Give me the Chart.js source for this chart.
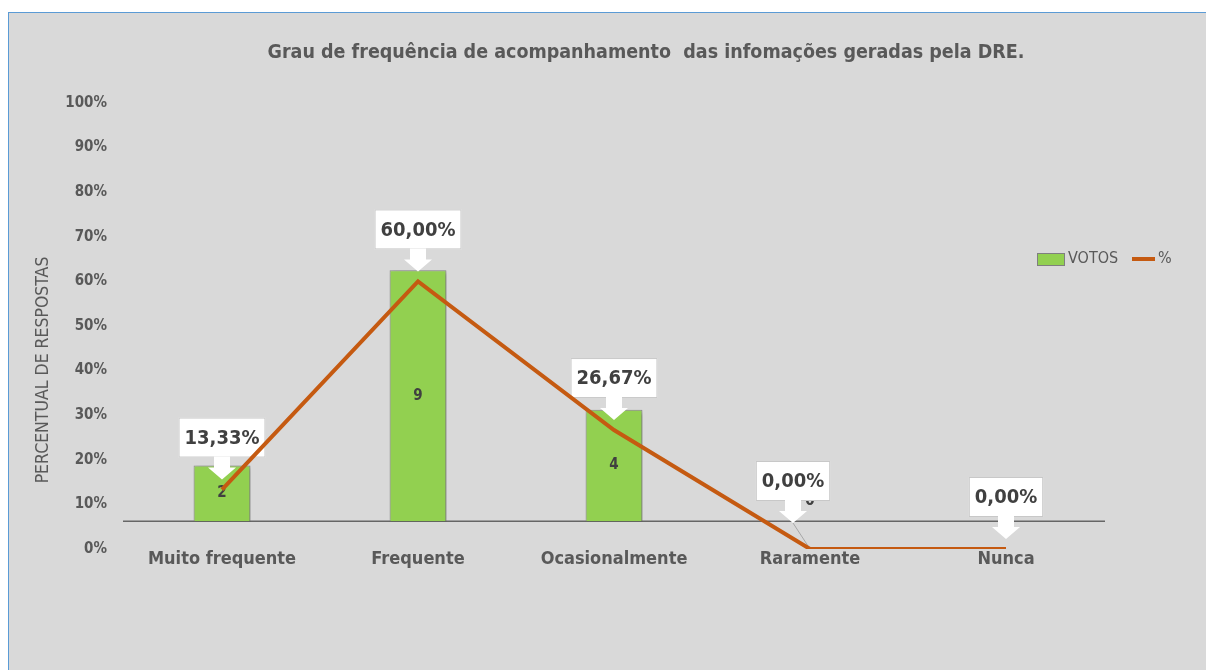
<!DOCTYPE html>
<html>
<head>
<meta charset="utf-8">
<script src="https://cdn.jsdelivr.net/npm/chart.js@4"></script>
<style>
  html, body { margin: 0; padding: 0; background: #fff; }
  #frame {
    position: absolute; left: 8px; top: 12px; width: 1210px; height: 670px;
    background: #d9d9d9; border: 1px solid #5b9bd5; box-sizing: border-box;
  }
  #wrap { position: absolute; left: 0; top: 0; width: 1206px; height: 670px; }
</style>
</head>
<body>
<div id="frame"></div>
<div id="wrap"><canvas id="chart" width="1206" height="670"></canvas></div>
<script>
// data
const categories = ["Muito frequente", "Frequente", "Ocasionalmente", "Raramente", "Nunca"];
const votos = [2, 9, 4, 0, 0];
const percent = [13.33, 60.0, 26.67, 0, 0];
const yTicks = [0, 10, 20, 30, 40, 50, 60, 70, 80, 90, 100];

const TITLE = "Grau de frequência de acompanhamento  das infomações geradas pela DRE.";
const Y_TITLE = "PERCENTUAL DE RESPOSTAS";
const FONT = "'Liberation Sans Narrow', 'DejaVu Sans Condensed', 'Liberation Sans', sans-serif";
const TEXT = "#595959";
const GREEN = "#92d050";
const ORANGE = "#c55a11";

// label that was dragged away in the original (dx, dy)
const calloutNudge = [[0, 0], [0, 0], [0, 0], [-17, -16], [0, 0]];

const fmtPct = v => v.toFixed(2).replace(".", ",") + "%";

// 🎨 extra drawing: title, axis title, legend, base line, labels, callouts
const decor = {
    id: "decor",
    beforeDatasetsDraw(chart) {
        const c = chart.ctx, a = chart.chartArea;
        const y0 = chart.scales.yVotos.getPixelForValue(0);
        c.save();
        c.strokeStyle = "#666";
        c.lineWidth = 1.5;
        c.beginPath();
        c.moveTo(a.left - 1, y0);
        c.lineTo(a.right + 1, y0);
        c.stroke();
        c.restore();
    },
    beforeDatasetDraw(chart, args) {
        if (args.index === 0) {
            const c = chart.ctx;
            c.save();
            c.shadowColor = "rgba(0,0,0,0.35)";
            c.shadowBlur = 4;
            c.shadowOffsetX = 2;
            c.shadowOffsetY = 2;
        }
    },
    afterDatasetDraw(chart, args) {
        if (args.index !== 0) return;
        const c = chart.ctx;
        c.restore();

        // bar value labels
        const bars = chart.getDatasetMeta(0).data;
        c.save();
        c.fillStyle = "#404040";
        c.font = "bold 15px " + FONT;
        c.textAlign = "center";
        c.textBaseline = "middle";
        bars.forEach((b, i) => {
            const v = votos[i];
            const y = v === 0 ? b.base - 20 : (b.y + b.base) / 2;
            c.fillText(String(v), b.x, y);
        });
        c.restore();

        // callouts for the % line
        const pts = chart.getDatasetMeta(1).data;
        c.save();
        c.font = "bold 20px " + FONT;
        pts.forEach((p, i) => {
            const [dx, dy] = calloutNudge[i];
            const tipX = p.x + dx, tipY = p.y - 10 + dy;
            const txt = fmtPct(percent[i]);
            const w = c.measureText(txt).width + 12, h = 40;
            const boxB = tipY - 22, boxT = boxB - h, boxL = tipX - w / 2;
            if (dx !== 0 || dy !== 0) {
                c.strokeStyle = "#a6a6a6";
                c.lineWidth = 1;
                c.beginPath();
                c.moveTo(tipX, tipY);
                c.lineTo(p.x, p.y);
                c.stroke();
            }
            c.fillStyle = "#fff";
            c.strokeStyle = "#c8c8c8";
            c.lineWidth = 1;
            c.fillRect(boxL, boxT, w, h);
            c.strokeRect(boxL + 0.5, boxT + 0.5, w - 1, h - 1);
            c.beginPath();
            c.moveTo(tipX - 8, boxB - 1);
            c.lineTo(tipX + 8, boxB - 1);
            c.lineTo(tipX + 8, boxB + 10);
            c.lineTo(tipX + 14, boxB + 10);
            c.lineTo(tipX, tipY);
            c.lineTo(tipX - 14, boxB + 10);
            c.lineTo(tipX - 8, boxB + 10);
            c.closePath();
            c.fill();
            c.fillStyle = "#404040";
            c.textAlign = "center";
            c.textBaseline = "middle";
            c.fillText(txt, tipX, boxT + h / 2 + 1);
        });
        c.restore();
    },
    afterDraw(chart) {
        const c = chart.ctx;
        c.save();
        c.fillStyle = TEXT;
        // title
        c.font = "bold 19.5px " + FONT;
        c.textAlign = "center";
        c.textBaseline = "middle";
        c.fillText(TITLE, 646, 53);
        // y title
        c.font = "17.5px " + FONT;
        c.translate(43, 370);
        c.rotate(-Math.PI / 2);
        c.fillText(Y_TITLE, 0, 0);
        c.restore();

        // legend
        const ly = 259;
        c.save();
        c.fillStyle = GREEN;
        c.fillRect(1037, ly - 6, 28, 13);
        c.strokeStyle = "#7f7f7f";
        c.lineWidth = 1;
        c.strokeRect(1037.5, ly - 5.5, 27, 12);
        c.fillStyle = TEXT;
        c.font = "16px " + FONT;
        c.textBaseline = "middle";
        c.textAlign = "left";
        c.fillText(chart.data.datasets[0].label, 1068, ly);
        c.strokeStyle = ORANGE;
        c.lineWidth = 4;
        c.beginPath();
        c.moveTo(1132, ly);
        c.lineTo(1155, ly);
        c.stroke();
        c.fillText(chart.data.datasets[1].label, 1158, ly);
        c.restore();
    }
};

const chart = new Chart(document.getElementById("chart").getContext("2d"), {
    data: {
        labels: categories,
        datasets: [
            {
                type: "bar", label: "VOTOS", data: votos, yAxisID: "yVotos", order: 2,
                backgroundColor: GREEN, borderColor: "#8c8c8c", borderWidth: 1,
                barPercentage: 0.29, categoryPercentage: 1
            },
            {
                type: "line", label: "%", data: percent, yAxisID: "y", order: 1,
                borderColor: ORANGE, borderWidth: 4, pointRadius: 0, tension: 0,
                fill: false
            }
        ]
    },
    options: {
        responsive: false,
        animation: false,
        layout: { padding: { left: 0, right: 102, top: 103, bottom: 91 } },
        plugins: { legend: { display: false }, title: { display: false }, tooltip: { enabled: false } },
        scales: {
            x: {
                offset: true,
                grid: { display: false, drawTicks: false },
                border: { display: false },
                ticks: { color: TEXT, font: { family: FONT, size: 18, weight: "bold" }, padding: 0, maxRotation: 0, autoSkip: false },
                afterFit(s) { s.height = 30; }
            },
            y: {
                position: "left",
                min: 0, max: 100,
                afterBuildTicks(s) { s.ticks = yTicks.map(v => ({ value: v })); },
                grid: { display: false, drawTicks: false },
                border: { display: false },
                ticks: { color: TEXT, font: { family: FONT, size: 15, weight: "bold" }, padding: 17, callback: v => v + "%" },
                afterFit(s) { s.width = 124; }
            },
            yVotos: {
                position: "right",
                display: false,
                min: -1, max: 15
            }
        }
    },
    plugins: [decor]
});
</script>
</body>
</html>
